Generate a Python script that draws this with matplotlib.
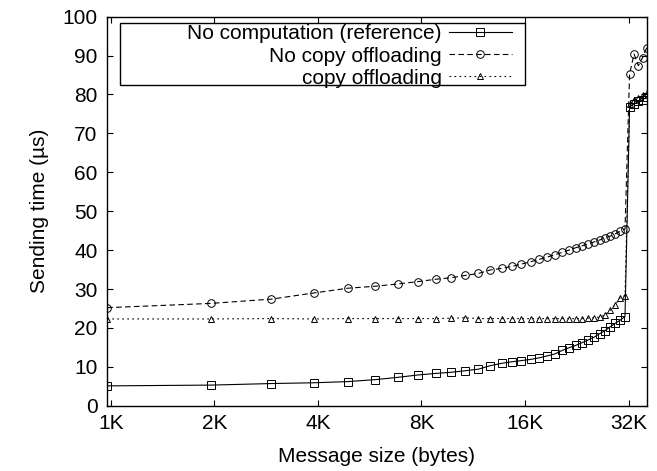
import matplotlib
matplotlib.use("Agg")
from matplotlib import pyplot as plt
from matplotlib.patches import Rectangle

plt.rcParams['font.family'] = ['Liberation Sans', 'DejaVu Sans']
plt.rcParams['font.size'] = 15

# message sizes (bytes)
sizes = [k * 1000 for k in range(1, 38)]

# sending time (us) - no computation (reference)
no_comp = [5.1, 5.3, 5.7, 5.9, 6.2, 6.7, 7.3, 7.9, 8.3, 8.6,
           9.0, 9.4, 10.3, 10.9, 11.3, 11.6, 11.9, 12.3, 12.8, 13.3,
           14.2, 14.9, 15.5, 16.2, 16.9, 17.6, 18.5, 19.3, 20.3, 21.2,
           22.0, 22.9, 76.8, 77.6, 78.2, 78.6, 79.4]

# no copy offloading
no_copy = [25.2, 26.3, 27.4, 29.0, 30.2, 30.7, 31.3, 31.9, 32.5, 32.9,
           33.5, 34.0, 34.9, 35.3, 35.8, 36.4, 37.0, 37.6, 38.2, 38.8,
           39.4, 40.0, 40.6, 41.1, 41.6, 42.1, 42.6, 43.1, 43.6, 44.2,
           44.8, 45.4, 85.3, 90.4, 87.4, 89.5, 92.0]

# copy offloading
copy_off = [22.3, 22.3, 22.4, 22.3, 22.4, 22.4, 22.4, 22.4, 22.4, 22.5,
            22.6, 22.4, 22.4, 22.4, 22.4, 22.4, 22.4, 22.4, 22.4, 22.4,
            22.4, 22.4, 22.4, 22.4, 22.5, 22.6, 22.8, 23.3, 24.5, 26.0,
            27.8, 28.3, 77.5, 78.5, 79.2, 79.8, 80.3]

xticks = [1024 * 2 ** i for i in range(6)]
xticklabels = ["1K", "2K", "4K", "8K", "16K", "32K"]

fig = plt.figure(figsize=(6.57, 4.71), dpi=100)
ax = fig.add_axes([0.1633, 0.1386, 0.821, 0.826])

ax.plot(sizes, no_comp, color='black', lw=0.8, marker='s', ms=5.5,
        mfc='none', mec='black', mew=0.7, label="No computation (reference)")
ax.plot(sizes, no_copy, color='black', lw=0.8, ls=(0, (5, 3)), marker='o', ms=5.5,
        mfc='none', mec='black', mew=0.7, label="No copy offloading")
ax.plot(sizes, copy_off, color='black', lw=0.8, ls=(0, (1.5, 3)), marker='^', ms=5,
        mfc='none', mec='black', mew=0.7, label="copy offloading")

ax.set_xscale('log', base=2)
ax.set_xlim(1000, 37000)
ax.set_ylim(0, 100)
ax.set_xticks(xticks)
ax.set_xticklabels(xticklabels)
ax.minorticks_off()
ax.set_yticks(range(0, 101, 10))
ax.tick_params(direction='in', top=True, right=True, length=4, width=0.8)
ax.tick_params(axis='x', pad=6)
ax.tick_params(axis='y', pad=7)
for s in ax.spines.values():
    s.set_linewidth(1.0)

ax.set_xlabel("Message size (bytes)", labelpad=10)
ax.set_ylabel("Sending time (\u00b5s)", labelpad=10)

# legend box (gnuplot style: text right aligned, sample on the right)
ax.add_patch(Rectangle((0.0235, 0.824), 0.7505, 0.1606, transform=ax.transAxes,
                       fill=False, edgecolor='black', lw=1.0, zorder=5))
ax.legend(loc='upper right', bbox_to_anchor=(0.7614, 0.996), markerfirst=False,
          frameon=False, handlelength=3.0, handletextpad=0.35, labelspacing=0.15,
          borderpad=0.3, borderaxespad=0, fontsize=15)

plt.savefig("out.png")
